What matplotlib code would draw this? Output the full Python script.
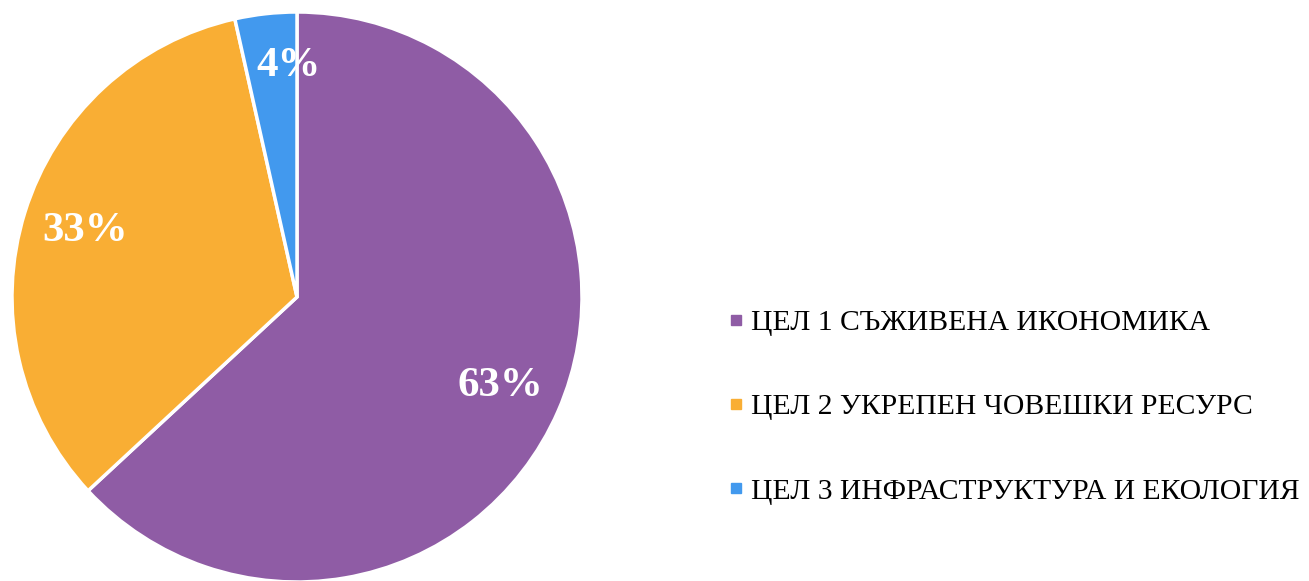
import matplotlib
matplotlib.use("Agg")
import matplotlib.pyplot as plt
from matplotlib.lines import Line2D

categories = ["ЦЕЛ 1 СЪЖИВЕНА ИКОНОМИКА",
              "ЦЕЛ 2 УКРЕПЕН ЧОВЕШКИ РЕСУРС",
              "ЦЕЛ 3 ИНФРАСТРУКТУРА И ЕКОЛОГИЯ"]
values = [63.1, 33.4, 3.5]
colors = ["#8F5CA5", "#F9AE34", "#4299EE"]

plt.rcParams['font.family'] = ['Liberation Serif', 'DejaVu Serif']

W, H = 1309, 581
fig = plt.figure(figsize=(W/100, H/100), dpi=100)
cx, cy, r = 297, 297, 285
ax = fig.add_axes([(cx - r)/W, (H - cy - r)/H, 2*r/W, 2*r/H])
wedges, texts, autotexts = ax.pie(
    values, colors=colors, startangle=90, counterclock=False,
    autopct=lambda p: f"{p:.0f}%", pctdistance=0.78,
    wedgeprops=dict(edgecolor="white", linewidth=2.5),
    textprops=dict(color="white", fontsize=31, fontweight="bold"))
# nudge the small-slice label as in the reference
autotexts[2].set_position((-0.03, 0.81))
ax.set_xlim(-1, 1)
ax.set_ylim(-1, 1)
ax.set_aspect("equal")
ax.axis("off")

handles = [Line2D([], [], marker="s", linestyle="none", markersize=7,
                  markerfacecolor=c, markeredgecolor=c) for c in colors]
fig.legend(handles, categories, loc="center left",
           bbox_to_anchor=(714/W, 1 - 407/H), frameon=False,
           fontsize=21.3, handlelength=0.5, handletextpad=0.25,
           labelspacing=1.95, borderpad=0)

fig.savefig("out.png", dpi=100)
